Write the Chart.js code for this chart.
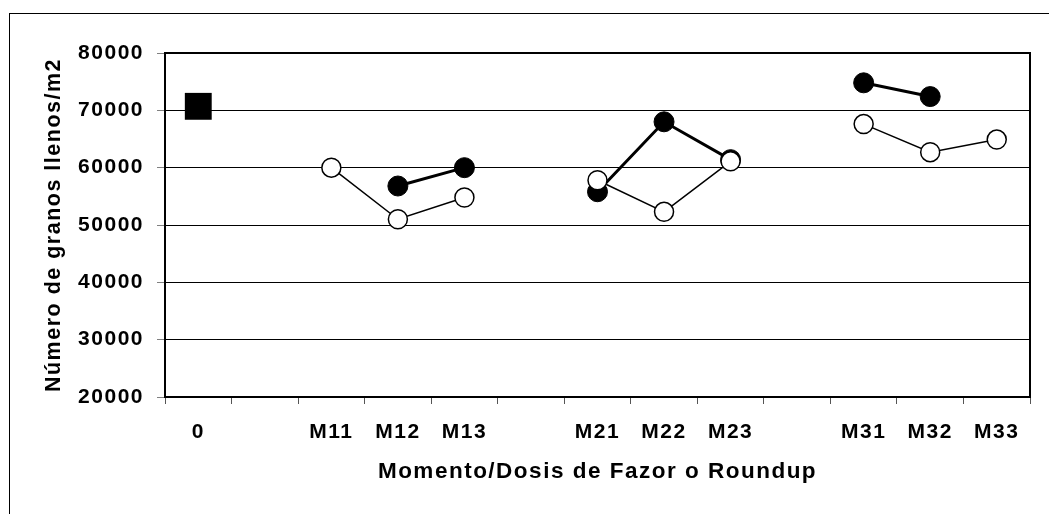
<!DOCTYPE html>
<html>
<head>
<meta charset="utf-8">
<script src="https://cdn.jsdelivr.net/npm/chart.js@4/dist/chart.umd.min.js"></script>
<style>
  html, body { margin: 0; padding: 0; background: #fff; }
  #wrap { width: 1049px; height: 514px; position: relative; }
</style>
</head>
<body>
<div id="wrap"><canvas id="granos-chart"></canvas></div>
<script>
        const momentos = ['0', '', 'M11', 'M12', 'M13', '', 'M21', 'M22', 'M23', '', 'M31', 'M32', 'M33'];

        // testigo sin aplicación
        const testigo = [70700, null, null, null, null, null, null, null, null, null, null, null, null];
        // Fazor (círculos llenos)
        const fazor = [null, null, null, 56800, 60000, null, 55800, 68000, 61400, null, 74800, 72400, null];
        // Roundup (círculos vacíos)
        const roundup = [null, null, 60000, 51000, 54800, null, 57800, 52300, 61100, null, 67600, 62700, 64900];

        const yTicks = [20000, 30000, 40000, 50000, 60000, 70000, 80000];

        const fuente = 'Liberation Sans, Arial, sans-serif';

        // marco exterior + borde del área de trazado
        const marcos = {
            id: 'marcos',
            beforeDraw(chart) {
                const ctx = chart.ctx;
                ctx.letterSpacing = '1.5px';
                ctx.save();
                ctx.strokeStyle = '#000';
                ctx.lineWidth = 1;
                ctx.strokeRect(9.5, 13.5, 1100, 600);
                ctx.restore();
            },
            afterDraw(chart) {
                const { left, top, right, bottom } = chart.chartArea;
                const ctx = chart.ctx;
                ctx.save();
                ctx.strokeStyle = '#000';
                ctx.lineWidth = 2;
                ctx.beginPath();
                ctx.moveTo(left, top);
                ctx.lineTo(right, top);
                ctx.lineTo(right, bottom);
                ctx.stroke();
                ctx.restore();
            }
        };

        function createChart() {
            const ctx = document.getElementById('granos-chart').getContext('2d');

            new Chart(ctx, {
                type: 'line',
                data: {
                    labels: momentos,
                    datasets: [
                        {
                            label: 'Roundup',
                            data: roundup,
                            borderColor: '#000',
                            borderWidth: 1.5,
                            pointStyle: 'circle',
                            pointRadius: 9.5,
                            pointBorderWidth: 1.5,
                            pointBackgroundColor: '#fff',
                            pointBorderColor: '#000',
                            spanGaps: false,
                            fill: false,
                        },
                        {
                            label: 'Fazor',
                            data: fazor,
                            borderColor: '#000',
                            borderWidth: 3,
                            pointStyle: 'circle',
                            pointRadius: 10,
                            pointBorderWidth: 1,
                            pointBackgroundColor: '#000',
                            pointBorderColor: '#000',
                            spanGaps: false,
                            fill: false,
                        },
                        {
                            label: 'Testigo',
                            data: testigo,
                            showLine: false,
                            pointStyle: 'rect',
                            pointRadius: 19,
                            pointBorderWidth: 0,
                            pointBackgroundColor: '#000',
                            pointBorderColor: '#000',
                        },
                    ],
                },
                options: {
                    responsive: true,
                    maintainAspectRatio: false,
                    animation: false,
                    events: [],
                    layout: {
                        padding: { top: 53, right: 6, left: 0, bottom: 0 },
                    },
                    plugins: {
                        legend: { display: false },
                        tooltip: { enabled: false },
                    },
                    scales: {
                        x: {
                            type: 'category',
                            offset: true,
                            afterFit: (scale) => { scale.height = 117; },
                            grid: {
                                offset: true,
                                drawOnChartArea: false,
                                tickLength: 7,
                                tickColor: '#555',
                            },
                            border: { color: '#000', width: 2 },
                            ticks: {
                                autoSkip: false,
                                maxRotation: 0,
                                padding: 16,
                                color: '#000',
                                font: { family: fuente, size: 21, weight: 'bold' },
                            },
                            title: {
                                display: true,
                                text: 'Momento/Dosis de Fazor o Roundup',
                                color: '#000',
                                font: { family: fuente, size: 22.5, weight: 'bold' },
                                padding: { top: 0, bottom: 29 },
                            },
                        },
                        y: {
                            min: 20000,
                            max: 80000,
                            afterFit: (scale) => { scale.width = 165; },
                            afterBuildTicks: (scale) => {
                                scale.ticks = yTicks.map((v) => ({ value: v }));
                            },
                            grid: {
                                color: '#000',
                                lineWidth: 1,
                                tickLength: 8,
                                tickColor: '#808080',
                            },
                            border: { color: '#000', width: 2 },
                            ticks: {
                                padding: 13,
                                color: '#000',
                                font: { family: fuente, size: 21, weight: 'bold' },
                                callback: (value) => String(value),
                            },
                            title: {
                                display: true,
                                text: 'Número de granos llenos/m2',
                                color: '#000',
                                font: { family: fuente, size: 21.5, weight: 'bold' },
                                padding: { top: 41, bottom: 0 },
                            },
                        },
                    },
                },
                plugins: [marcos],
            });
        }

        createChart();
</script>
</body>
</html>
